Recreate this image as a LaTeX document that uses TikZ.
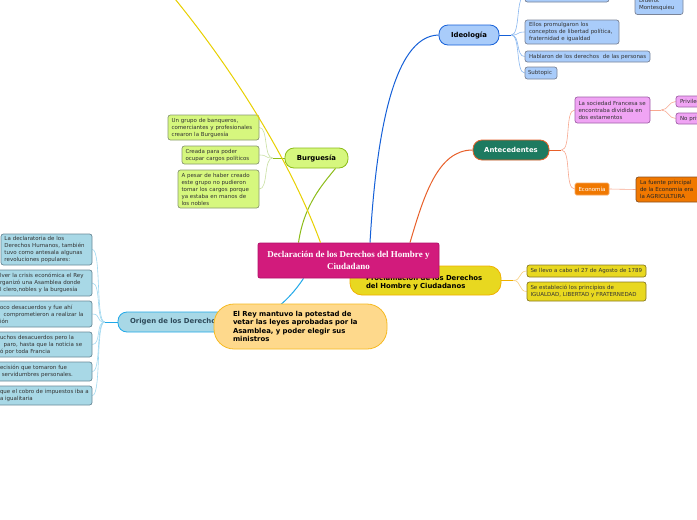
\documentclass[tikz,border=0pt]{standalone}
\usepackage{fontspec}
\setmainfont{DejaVu Sans}
\newfontfamily\serifbf{Liberation Serif}
\usetikzlibrary{calc}
\pgfdeclarelayer{bg}
\pgfsetlayers{bg,main}
\definecolor{txt}{HTML}{333333}
\definecolor{cmag}{HTML}{D21B7C}
\definecolor{cmagb}{HTML}{B0106A}
\definecolor{ideF}{HTML}{A9CCFA}
\definecolor{ideB}{HTML}{1560D8}
\definecolor{ideL}{HTML}{8AB8F0}
\definecolor{leafB}{HTML}{7A8498}
\definecolor{antF}{HTML}{1D7A60}
\definecolor{antB}{HTML}{E8602A}
\definecolor{antL}{HTML}{F8A890}
\definecolor{socF}{HTML}{F0A4F4}
\definecolor{socB}{HTML}{A060A8}
\definecolor{ecoF}{HTML}{F07800}
\definecolor{ecoB}{HTML}{F8A860}
\definecolor{fueB}{HTML}{8A5020}
\definecolor{burF}{HTML}{D6F77E}
\definecolor{burB}{HTML}{8CBC18}
\definecolor{burL}{HTML}{C8E0A0}
\definecolor{burLB}{HTML}{8A9A70}
\definecolor{oriF}{HTML}{A8D8E6}
\definecolor{oriB}{HTML}{20A8E8}
\definecolor{oriL}{HTML}{A0D8F0}
\definecolor{oriLB}{HTML}{6A8A98}
\definecolor{oriT}{HTML}{2E4A5A}
\definecolor{reyF}{HTML}{FED98C}
\definecolor{reyB}{HTML}{F6BA22}
\definecolor{proF}{HTML}{E8D820}
\definecolor{proB}{HTML}{F0B000}
\definecolor{proL}{HTML}{F8D080}
\definecolor{proLB}{HTML}{8A7A20}
\definecolor{ylw}{HTML}{E8D000}
\tikzset{
  leaf/.style={draw, rounded corners=2.5pt, align=left, inner sep=0pt, line width=0.7pt,
    font=\fontsize{5.5}{7}\selectfont, text=txt},
  big/.style={draw, align=left, inner sep=0pt, line width=0.8pt,
    font=\bfseries\fontsize{6.9}{8.4}\selectfont},
  branch/.style={line width=1pt},
  twig/.style={line width=0.6pt}
}
\begin{document}
\begin{tikzpicture}[x=1pt,y=-1pt]
\useasboundingbox (0,0) rectangle (697,520);
\clip (0,0) rectangle (697,520);
\begin{pgfonlayer}{bg}
\fill[white] (0,0) rectangle (697,520);
\end{pgfonlayer}

% ---- Ideologia
\node[big, fill=ideF, draw=ideB, rounded corners=9pt, minimum width=60, minimum height=20, align=center] (ide) at (469,35) {Ideología};
\node[leaf, fill=ideF, draw=leafB, minimum width=84, minimum height=12, text width=76] (ide0) at (567,-4) {};
\node[leaf, fill=ideF, draw=leafB, minimum width=48, minimum height=21, text width=40] (did) at (659,4) {Diderot\\Montesquieu};
\node[leaf, fill=ideF, draw=leafB, minimum width=94, minimum height=24, text width=86] (ide1) at (572,32) {Ellos promulgaron los\\conceptos de libertad política,\\fraternidad e igualdad};
\node[leaf, fill=ideF, draw=leafB, minimum width=125, minimum height=11, text width=117] (ide2) at (587.5,56.5) {\mbox{Hablaron de los derechos\ \ de las personas}};
\node[leaf, fill=ideF, draw=leafB, minimum width=32, minimum height=12, text width=26] (ide3) at (541,73) {Subtopic};

% ---- Antecedentes
\node[big, fill=antF, draw=antB, text=white, rounded corners=9pt, minimum width=76, minimum height=20, align=center] (ant) at (511,150) {Antecedentes};
\node[leaf, fill=socF, draw=socB, minimum width=75, minimum height=26, text width=68] (soc) at (612.5,110) {La sociedad Francesa se\\encontraba dividida en\\dos estamentos};
\node[leaf, fill=socF, draw=socB, minimum width=64, minimum height=11, text width=56] (priv) at (708,101.5) {\mbox{Privilegiados}};
\node[leaf, fill=socF, draw=socB, minimum width=64, minimum height=11, text width=56] (npriv) at (708,118.5) {\mbox{No privilegiados}};
\node[leaf, fill=ecoF, draw=ecoB, text=white, rounded corners=1.5pt, minimum width=34, minimum height=12, text width=27] (eco) at (592,189) {Economía};
\node[leaf, fill=ecoF, draw=fueB, text=black!85, minimum width=69, minimum height=25, text width=61] (fue) at (670.5,189.5) {La fuente principal\\de la Economia era\\la AGRICULTURA};

% ---- Burguesia
\node[big, fill=burF, draw=burB, rounded corners=9pt, minimum width=63, minimum height=20, align=center] (bur) at (316.5,158) {Burguesía};
\node[leaf, fill=burF, draw=burLB, minimum width=91, minimum height=25, text width=84] (bg1) at (213.5,127.5) {Un grupo de banqueros,\\comerciantes y profesionales\\crearon la Burguesía};
\node[leaf, fill=burF, draw=burLB, minimum width=77, minimum height=18, text width=70] (bg2) at (220.5,155) {Creada para poder\\ocupar cargos políticos};
\node[leaf, fill=burF, draw=burLB, minimum width=81, minimum height=38, text width=74] (bg3) at (218.5,189) {A pesar de haber creado\\este grupo no pudieron\\tomar los cargos porque\\ya estaba en manos de\\los nobles};

% ---- Origen
\node[big, fill=oriF, draw=oriB, text=oriT, rounded corners=9pt, minimum width=122, minimum height=20, text width=98] (ori) at (179,322) {Origen de los Derechos};
\node[leaf, fill=oriF, draw=oriLB, minimum width=91, minimum height=31, text width=84] (o1) at (46.5,249.5) {La declaratoria de los\\Derechos Humanos, también\\tuvo como antesala algunas\\revoluciones populares:};
\node[leaf, fill=oriF, draw=oriLB, minimum width=96, minimum height=26, text width=88] (o2) at (44,283) {\mbox{lver la crisis económica el Rey}\\\mbox{rganizó una Asamblea donde}\\\mbox{l clero,nobles y la burguesía}};
\node[leaf, fill=oriF, draw=oriLB, minimum width=96, minimum height=26, text width=88] (o3) at (44,314) {\mbox{oco desacuerdos y fue ahí}\\\mbox{\ \ comprometieron a realizar la}\\ión};
\node[leaf, fill=oriF, draw=oriLB, minimum width=96, minimum height=25, text width=88] (o4) at (44,344.5) {\mbox{uchos desacuerdos pero la}\\\mbox{\ \ paro, hasta que la noticia se}\\\mbox{ó por toda Francia}};
\node[leaf, fill=oriF, draw=oriLB, minimum width=96, minimum height=19, text width=88] (o5) at (44,371.5) {\mbox{ecisión que tomaron fue}\\\mbox{\ servidumbres personales.}};
\node[leaf, fill=oriF, draw=oriLB, minimum width=96, minimum height=19, text width=88] (o6) at (44,395.5) {\mbox{que el cobro de impuestos iba a}\\\mbox{a igualitaria}};

% ---- Proclamacion
\node[big, fill=proF, draw=proB, rounded corners=12pt, minimum width=151, minimum height=29, text width=119, text height=9pt] (pro) at (425.5,280.5) {\mbox{Proclamación de los Derechos}\\\mbox{del Hombre y Ciudadanos}};
\node[leaf, fill=proF, draw=proLB, minimum width=119, minimum height=12, text width=112] (p1) at (586.5,271) {\mbox{Se llevo a cabo el 27 de Agosto de 1789}};
\node[leaf, fill=proF, draw=proLB, minimum width=119, minimum height=19, text width=112] (p2) at (586.5,291.5) {\mbox{Se estableció los principios de}\\\mbox{IGUALDAD, LIBERTAD y FRATERNEDAD}};

% ---- Center
\node[draw=cmagb, fill=cmag, rounded corners=2pt, line width=0.8pt, minimum width=181, minimum height=35, align=center, inner sep=0pt, text=white,
  font=\serifbf\bfseries\fontsize{9}{12}\selectfont] (c) at (348.5,260.5) {Declaración de los Derechos del Hombre y\\Ciudadano};

% ---- El Rey
\node[big, fill=reyF, draw=reyB, rounded corners=20pt, minimum width=173, minimum height=45, text width=135] (rey) at (300.5,326.5) {\mbox{El Rey mantuvo la potestad de}\\\mbox{vetar las leyes aprobadas por la}\\\mbox{Asamblea, y poder elegir sus}\\ministros};

\coordinate (offtop) at (166,-12);

% ---- connectors
\begin{pgfonlayer}{bg}
\draw[branch, ideB] ($(c.north)+(21.5,0)$) .. controls (376,140) and (392,36) .. (ide.west);
\draw[branch, antB] ($(c.north)+(61.5,0)$) .. controls (424,195) and (438,150) .. (ant.west);
\draw[branch, burB] ($(c.north)+(-50,0)$) .. controls (304,205) and (322,185) .. ($(bur.south)+(19,0)$);
\draw[branch, oriB] ($(c.south)+(-45,0)$) .. controls (286,305) and (262,322) .. (ori.east);
\draw[branch, proB] (c) -- (pro);
% Ideologia fork
\draw[branch, ideB] (ide.east) -- ++(12,0) coordinate (idef);
\foreach \k in {ide0,ide1,ide2,ide3}
  \draw[twig, ideL] (idef) .. controls +(9,0) and +(-9,0) .. (\k.west);
% Antecedentes fork
\draw[branch, antB] (ant.east) -- ++(12,0) coordinate (antf);
\foreach \k in {soc,eco}
  \draw[twig, antL] (antf) .. controls +(10,0) and +(-10,0) .. (\k.west);
\draw[twig, antL] (soc.east) -- ++(11,0) coordinate (socf);
\foreach \k in {priv,npriv}
  \draw[twig, antL] (socf) .. controls +(7,0) and +(-7,0) .. (\k.west);
\draw[twig, antL] (eco.east) -- (fue.west);
% Burguesia fork
\draw[branch, burB] (bur.west) -- ++(-12,0) coordinate (burf);
\foreach \k in {bg1,bg2,bg3}
  \draw[twig, burL] (burf) .. controls +(-9,0) and +(9,0) .. (\k.east);
% Origen fork
\draw[branch, oriB] (ori.west) -- ++(-13,0) coordinate (orif);
\foreach \k in {o1,o2,o3,o4,o5,o6}
  \draw[twig, oriL] (orif) .. controls +(-9,0) and +(9,0) .. (\k.east);
% Proclamacion fork
\draw[branch, proB] (pro.east) -- ++(12,0) coordinate (prof);
\foreach \k in {p1,p2}
  \draw[twig, proL] (prof) .. controls +(8,0) and +(-8,0) .. (\k.west);
\end{pgfonlayer}
% long yellow connector over the nodes
\draw[branch, ylw] ($(c.north)+(-28,0)$) .. controls (292,165) and (236,72) .. (offtop);
\end{tikzpicture}
\end{document}
